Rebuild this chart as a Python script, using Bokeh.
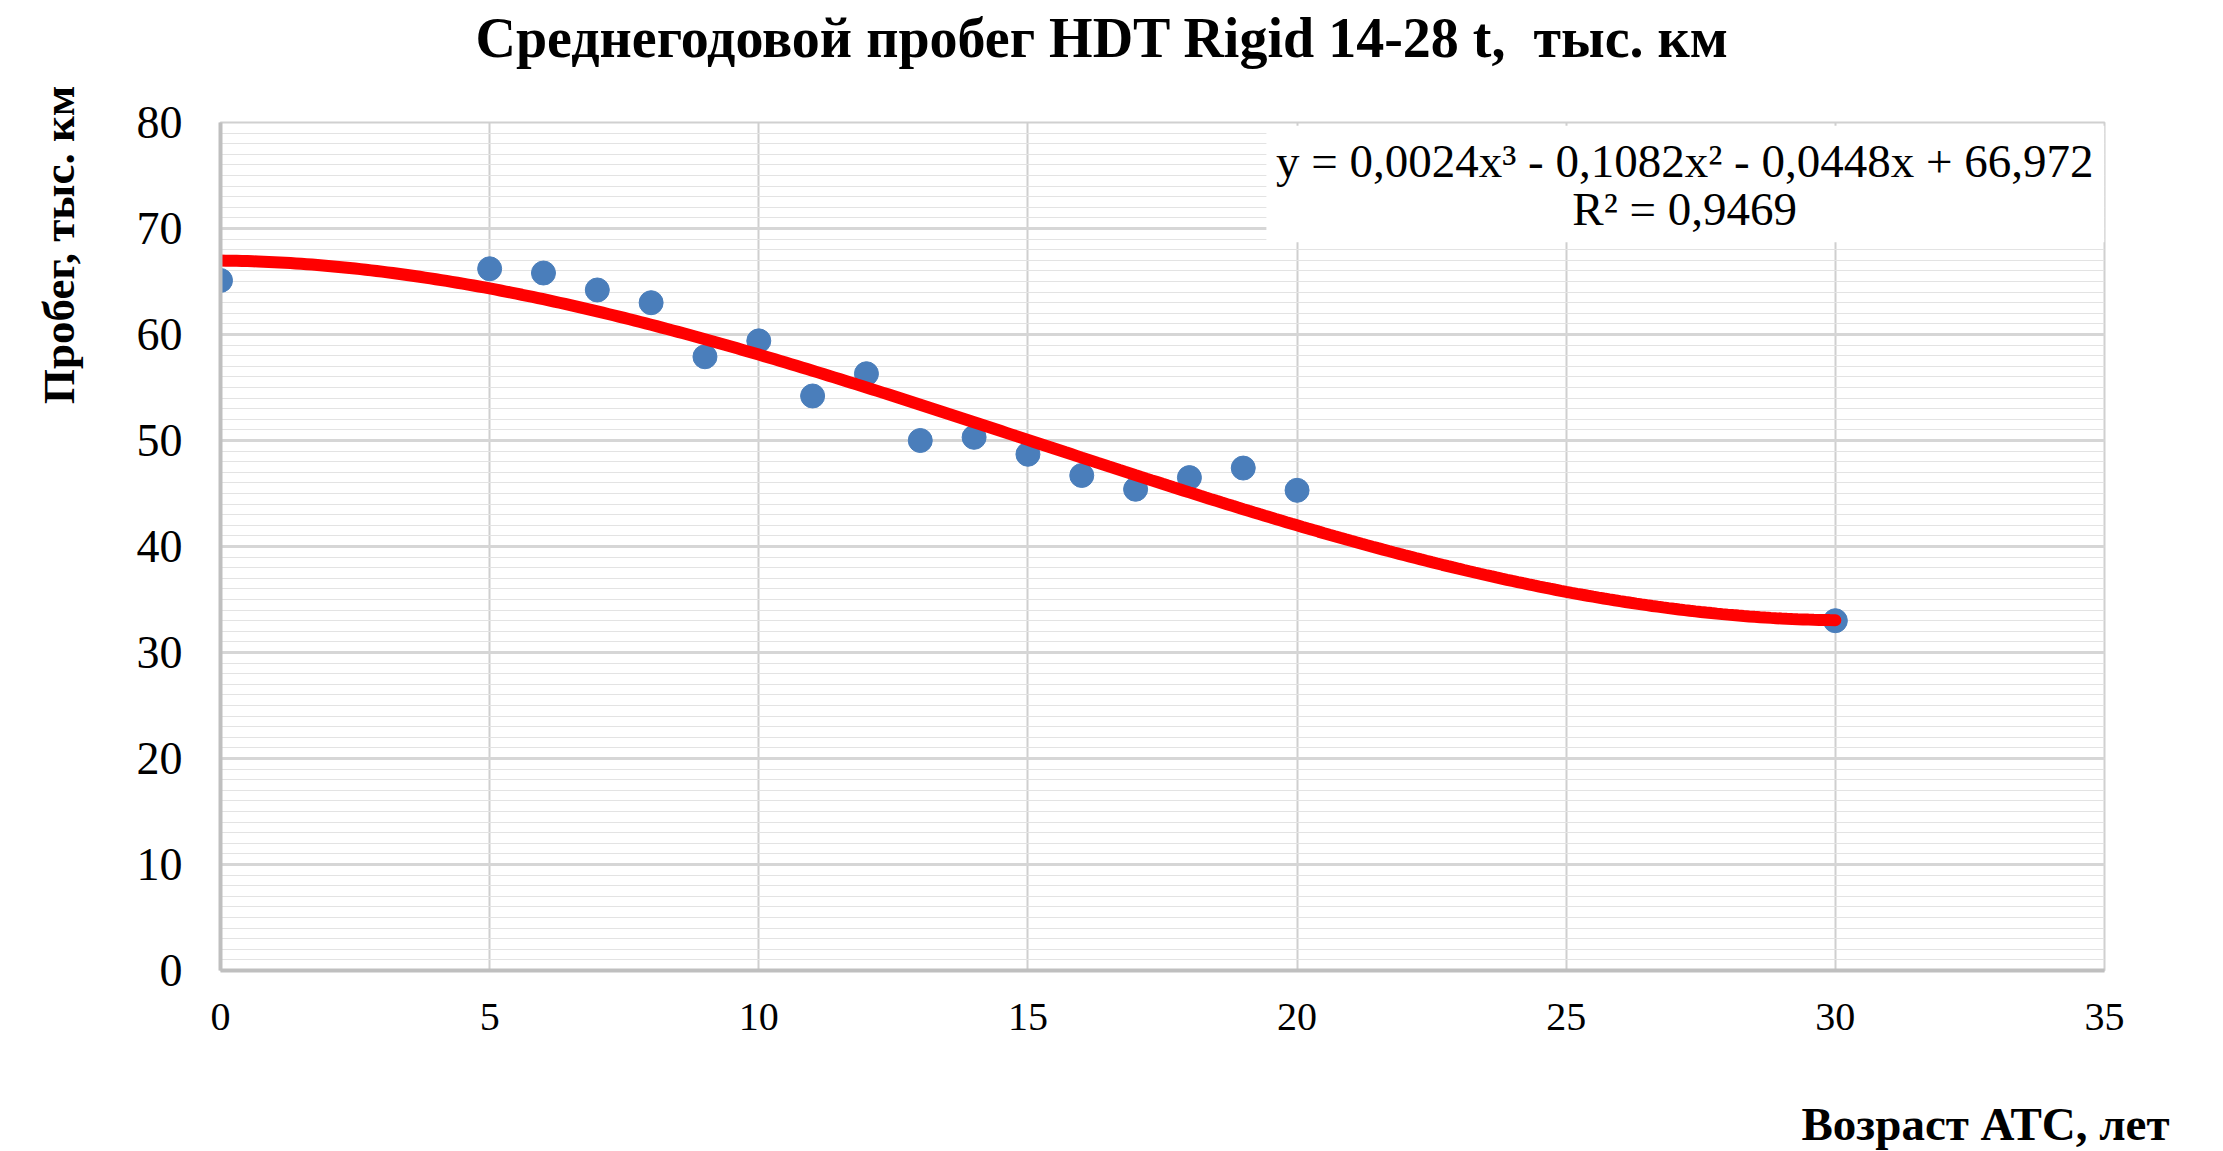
import numpy as np
from bokeh.plotting import figure
from bokeh.models import Range1d, SingleIntervalTicker, BoxAnnotation, Label, ColumnDataSource, Title
from bokeh.embed import file_html
from bokeh.resources import INLINE

# ---- data ----
age = [0, 5, 6, 7, 8, 9, 10, 11, 12, 13, 14, 15, 16, 17, 18, 19, 20, 30]
mileage = [65.1, 66.2, 65.8, 64.2, 63.0, 57.9, 59.4, 54.2, 56.3, 50.0,
           50.3, 48.7, 46.7, 45.4, 46.5, 47.4, 45.3, 33.0]
trend_coef = [0.0024, -0.1082, -0.0448, 66.972]   # cubic trendline shown on chart
trend_span = [0, 30]
x_tick_step = 5
y_tick_step = 10
x_limits = [0, 35]
y_limits = [0, 80]

title_text = "Среднегодовой пробег HDT Rigid 14-28 t,\u00a0 тыс. км"
x_title = "Возраст АТС, лет"
y_title = "Пробег, тыс. км"
eq_text = "y = 0,0024x³ - 0,1082x² - 0,0448x + 66,972"
r2_text = "R² = 0,9469"

FONT = "Liberation Serif"
PAD = "\u00a0"   # blank spacer line used to push titles away from the plot frame

trend_x = np.linspace(trend_span[0], trend_span[1], 301)
trend_y = np.polyval(trend_coef, trend_x)

p = figure(width=2207, height=1151, output_backend="svg", toolbar_location=None,
           x_range=Range1d(*x_limits), y_range=Range1d(*y_limits),
           min_border_left=220, min_border_right=103,
           min_border_top=122, min_border_bottom=181)
p.background_fill_color = "white"
p.border_fill_color = "white"
p.outline_line_color = "#d0d0d0"
p.outline_line_width = 2

# main title (2 lines: text + blank spacer)
p.title.text = title_text + "\n" + PAD
p.title.align = "left"
p.title.offset = 255
p.title.standoff = 0
p.title.vertical_align = "bottom"
p.title.text_font = FONT
p.title.text_font_size = "56px"
p.title.text_font_style = "bold"
p.title.text_color = "black"
p.title.text_line_height = 0.86

# axes
xt = SingleIntervalTicker(interval=x_tick_step, num_minor_ticks=0)
yt = SingleIntervalTicker(interval=y_tick_step, num_minor_ticks=10)
p.xaxis.ticker = xt
p.yaxis.ticker = yt
p.xgrid.ticker = xt
p.ygrid.ticker = yt
for ax in (p.xaxis[0], p.yaxis[0]):
    ax.major_tick_line_color = None
    ax.minor_tick_line_color = None
    ax.major_tick_out = 0
    ax.major_tick_in = 0
    ax.minor_tick_out = 0
    ax.minor_tick_in = 0
    ax.axis_line_color = "#bfbfbf"
    ax.axis_line_width = 4
    ax.major_label_text_font = FONT
    ax.major_label_text_color = "black"
p.yaxis.major_label_text_font_size = "46px"
p.xaxis.major_label_text_font_size = "40px"
p.yaxis.major_label_standoff = 38
p.xaxis.major_label_standoff = 33

p.xgrid.grid_line_color = "#cfcfcf"
p.xgrid.grid_line_width = 2
p.ygrid.grid_line_color = "#d6d6d6"
p.ygrid.grid_line_width = 3
p.ygrid.minor_grid_line_color = "#e3e3e3"
p.ygrid.minor_grid_line_width = 1
p.xgrid.minor_grid_line_color = None

# axis titles
xt_title = Title(text=PAD + "\n" + x_title, align="right", offset=-65, standoff=0,
                 vertical_align="bottom", text_font=FONT, text_font_size="47px",
                 text_font_style="bold", text_color="black", text_line_height=1.24)
p.add_layout(xt_title, "below")
yt_title = Title(text=y_title + "\n" + PAD, align="right", offset=-37, standoff=0,
                 vertical_align="bottom", text_font=FONT, text_font_size="45px",
                 text_font_style="bold", text_color="black", text_line_height=1.0)
p.add_layout(yt_title, "left")

# marks
src = ColumnDataSource(dict(x=age, y=mileage))
p.scatter("x", "y", source=src, size=24, color="#4a7ebb", line_color="#4a7ebb")
p.line(trend_x, trend_y, line_color="#ff0000", line_width=12, line_cap="round")

# equation box
box = BoxAnnotation(left=19.43, right=35, top=79.7, bottom=68.7,
                    fill_color="white", fill_alpha=1.0, line_color=None, level="overlay")
p.add_layout(box)
p.add_layout(Label(x=27.2, y=76.4, text=eq_text, text_align="center", text_baseline="middle",
                   text_font=FONT, text_font_size="47px", text_color="black", level="overlay"))
p.add_layout(Label(x=27.2, y=71.8, text=r2_text, text_align="center", text_baseline="middle",
                   text_font=FONT, text_font_size="47px", text_color="black", level="overlay"))

open("out.html", "w").write(file_html(p, INLINE))
